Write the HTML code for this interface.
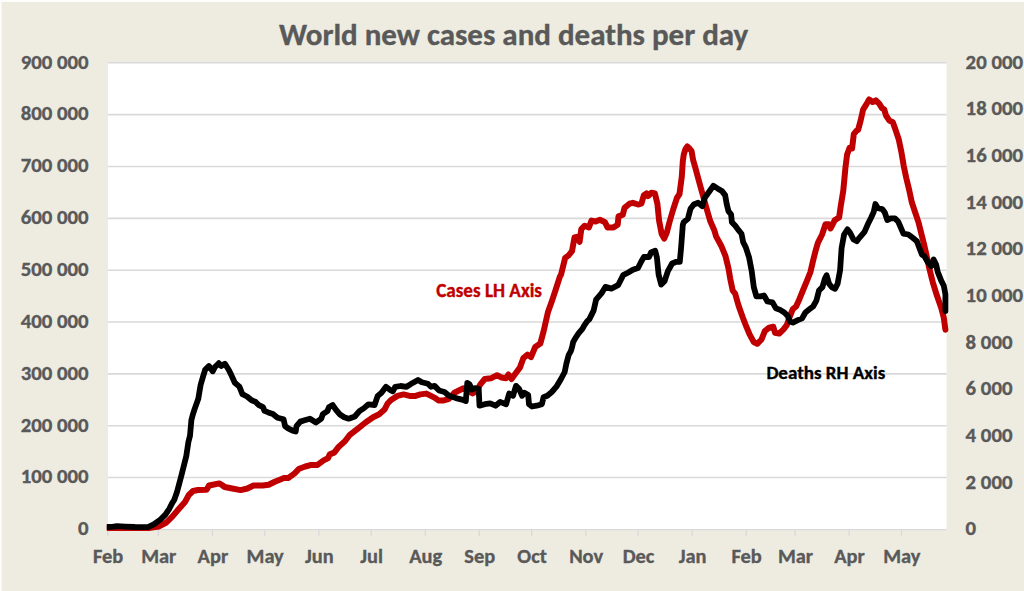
<!DOCTYPE html><html><head><meta charset="utf-8"><title>World new cases and deaths per day</title>
<style>html,body{margin:0;padding:0;background:#fff;}body{width:1024px;height:591px;overflow:hidden;}svg{display:block;font-family:Carlito,"Liberation Sans",sans-serif;font-weight:bold;}text{stroke-width:0.35px;font-size-adjust:0.485;}</style></head><body>
<svg width="1024" height="591" viewBox="0 0 1024 591">
<rect x="0" y="0" width="1024" height="591" fill="#FDFDFC"/>
<rect x="1.6" y="2" width="1024" height="591" fill="#EEECE1"/>
<rect x="108.0" y="62.0" width="838.50" height="467.40" fill="#FFFFFF"/>
<line x1="108.0" x2="946.5" y1="477.56" y2="477.56" stroke="#D9D9D9" stroke-width="1.6"/>
<line x1="108.0" x2="946.5" y1="425.71" y2="425.71" stroke="#D9D9D9" stroke-width="1.6"/>
<line x1="108.0" x2="946.5" y1="373.87" y2="373.87" stroke="#D9D9D9" stroke-width="1.6"/>
<line x1="108.0" x2="946.5" y1="322.02" y2="322.02" stroke="#D9D9D9" stroke-width="1.6"/>
<line x1="108.0" x2="946.5" y1="270.18" y2="270.18" stroke="#D9D9D9" stroke-width="1.6"/>
<line x1="108.0" x2="946.5" y1="218.33" y2="218.33" stroke="#D9D9D9" stroke-width="1.6"/>
<line x1="108.0" x2="946.5" y1="166.49" y2="166.49" stroke="#D9D9D9" stroke-width="1.6"/>
<line x1="108.0" x2="946.5" y1="114.64" y2="114.64" stroke="#D9D9D9" stroke-width="1.6"/>
<line x1="108.0" x2="946.5" y1="62.80" y2="62.80" stroke="#D9D9D9" stroke-width="1.6"/>
<line x1="108.0" x2="946.5" y1="529.70" y2="529.70" stroke="#D9D9D9" stroke-width="1.3"/>
<line x1="107.80" x2="107.80" y1="529.40" y2="535.90" stroke="#D9D9D9" stroke-width="1.3"/>
<line x1="158.38" x2="158.38" y1="529.40" y2="535.90" stroke="#D9D9D9" stroke-width="1.3"/>
<line x1="212.46" x2="212.46" y1="529.40" y2="535.90" stroke="#D9D9D9" stroke-width="1.3"/>
<line x1="264.79" x2="264.79" y1="529.40" y2="535.90" stroke="#D9D9D9" stroke-width="1.3"/>
<line x1="318.86" x2="318.86" y1="529.40" y2="535.90" stroke="#D9D9D9" stroke-width="1.3"/>
<line x1="371.19" x2="371.19" y1="529.40" y2="535.90" stroke="#D9D9D9" stroke-width="1.3"/>
<line x1="425.26" x2="425.26" y1="529.40" y2="535.90" stroke="#D9D9D9" stroke-width="1.3"/>
<line x1="479.34" x2="479.34" y1="529.40" y2="535.90" stroke="#D9D9D9" stroke-width="1.3"/>
<line x1="531.66" x2="531.66" y1="529.40" y2="535.90" stroke="#D9D9D9" stroke-width="1.3"/>
<line x1="585.74" x2="585.74" y1="529.40" y2="535.90" stroke="#D9D9D9" stroke-width="1.3"/>
<line x1="638.07" x2="638.07" y1="529.40" y2="535.90" stroke="#D9D9D9" stroke-width="1.3"/>
<line x1="692.14" x2="692.14" y1="529.40" y2="535.90" stroke="#D9D9D9" stroke-width="1.3"/>
<line x1="746.21" x2="746.21" y1="529.40" y2="535.90" stroke="#D9D9D9" stroke-width="1.3"/>
<line x1="795.05" x2="795.05" y1="529.40" y2="535.90" stroke="#D9D9D9" stroke-width="1.3"/>
<line x1="849.13" x2="849.13" y1="529.40" y2="535.90" stroke="#D9D9D9" stroke-width="1.3"/>
<line x1="901.46" x2="901.46" y1="529.40" y2="535.90" stroke="#D9D9D9" stroke-width="1.3"/>
<g fill="#595959" stroke="#595959" font-size="20.4" text-anchor="middle">
<text x="108.20" y="563.1" textLength="30.28" lengthAdjust="spacingAndGlyphs">Feb</text>
<text x="158.78" y="563.1" textLength="35.14" lengthAdjust="spacingAndGlyphs">Mar</text>
<text x="212.86" y="563.1" textLength="30.55" lengthAdjust="spacingAndGlyphs">Apr</text>
<text x="265.19" y="563.1" textLength="37.19" lengthAdjust="spacingAndGlyphs">May</text>
<text x="319.26" y="563.1" textLength="28.64" lengthAdjust="spacingAndGlyphs">Jun</text>
<text x="371.59" y="563.1" textLength="22.70" lengthAdjust="spacingAndGlyphs">Jul</text>
<text x="425.66" y="563.1" textLength="32.97" lengthAdjust="spacingAndGlyphs">Aug</text>
<text x="479.74" y="563.1" textLength="30.86" lengthAdjust="spacingAndGlyphs">Sep</text>
<text x="532.06" y="563.1" textLength="29.41" lengthAdjust="spacingAndGlyphs">Oct</text>
<text x="586.14" y="563.1" textLength="33.98" lengthAdjust="spacingAndGlyphs">Nov</text>
<text x="638.47" y="563.1" textLength="31.66" lengthAdjust="spacingAndGlyphs">Dec</text>
<text x="692.54" y="563.1" textLength="27.77" lengthAdjust="spacingAndGlyphs">Jan</text>
<text x="746.61" y="563.1" textLength="30.28" lengthAdjust="spacingAndGlyphs">Feb</text>
<text x="795.45" y="563.1" textLength="35.14" lengthAdjust="spacingAndGlyphs">Mar</text>
<text x="849.53" y="563.1" textLength="30.55" lengthAdjust="spacingAndGlyphs">Apr</text>
<text x="901.86" y="563.1" textLength="37.19" lengthAdjust="spacingAndGlyphs">May</text>
</g>
<g fill="#595959" stroke="#595959" font-size="20.8" text-anchor="end">
<text x="88.6" y="535.20" textLength="10.55" lengthAdjust="spacingAndGlyphs">0</text>
<text x="88.6" y="483.36" textLength="67.95" lengthAdjust="spacingAndGlyphs">100 000</text>
<text x="88.6" y="431.51" textLength="67.95" lengthAdjust="spacingAndGlyphs">200 000</text>
<text x="88.6" y="379.67" textLength="67.95" lengthAdjust="spacingAndGlyphs">300 000</text>
<text x="88.6" y="327.82" textLength="67.95" lengthAdjust="spacingAndGlyphs">400 000</text>
<text x="88.6" y="275.98" textLength="67.95" lengthAdjust="spacingAndGlyphs">500 000</text>
<text x="88.6" y="224.13" textLength="67.95" lengthAdjust="spacingAndGlyphs">600 000</text>
<text x="88.6" y="172.29" textLength="67.95" lengthAdjust="spacingAndGlyphs">700 000</text>
<text x="88.6" y="120.44" textLength="67.95" lengthAdjust="spacingAndGlyphs">800 000</text>
<text x="88.6" y="68.60" textLength="67.95" lengthAdjust="spacingAndGlyphs">900 000</text>
</g>
<g fill="#595959" stroke="#595959" font-size="20.8" text-anchor="start">
<text x="965.6" y="535.20" textLength="10.55" lengthAdjust="spacingAndGlyphs">0</text>
<text x="965.6" y="488.54" textLength="46.88" lengthAdjust="spacingAndGlyphs">2 000</text>
<text x="965.6" y="441.88" textLength="46.88" lengthAdjust="spacingAndGlyphs">4 000</text>
<text x="965.6" y="395.22" textLength="46.88" lengthAdjust="spacingAndGlyphs">6 000</text>
<text x="965.6" y="348.56" textLength="46.88" lengthAdjust="spacingAndGlyphs">8 000</text>
<text x="965.6" y="301.90" textLength="57.41" lengthAdjust="spacingAndGlyphs">10 000</text>
<text x="965.6" y="255.24" textLength="57.41" lengthAdjust="spacingAndGlyphs">12 000</text>
<text x="965.6" y="208.58" textLength="57.41" lengthAdjust="spacingAndGlyphs">14 000</text>
<text x="965.6" y="161.92" textLength="57.41" lengthAdjust="spacingAndGlyphs">16 000</text>
<text x="965.6" y="115.26" textLength="57.41" lengthAdjust="spacingAndGlyphs">18 000</text>
<text x="965.6" y="68.60" textLength="57.41" lengthAdjust="spacingAndGlyphs">20 000</text>
</g>
<text x="513.6" y="44.5" fill="#595959" stroke="#595959" font-size="31" text-anchor="middle" textLength="469.39" lengthAdjust="spacingAndGlyphs">World new cases and deaths per day</text>
<defs><clipPath id="pc"><rect x="106.8" y="0" width="917" height="591"/></clipPath></defs>
<g clip-path="url(#pc)">
<polyline points="105.0,528.1 148.8,528.1 158.6,526.6 166.4,522.5 172.3,516.6 178.1,509.8 185.0,502.0 188.8,495.0 193.0,491.0 198.0,490.0 206.6,489.7 209.0,485.5 214.0,484.5 219.3,483.4 222.0,485.0 224.6,487.0 232.2,488.5 240.6,490.1 247.4,488.5 253.5,485.5 262.6,485.5 268.7,484.7 274.8,481.7 284.0,477.9 288.5,477.9 294.6,473.3 299.2,468.7 305.3,466.5 311.4,464.9 317.5,464.9 323.6,460.4 328.1,458.1 329.7,454.3 334.2,452.7 338.8,446.7 344.9,441.3 349.5,435.2 357.9,428.6 365.5,422.5 373.1,417.2 379.2,414.2 384.5,409.6 387.6,403.5 391.4,399.7 397.5,395.9 403.6,394.4 409.7,395.9 415.7,395.9 420.3,394.4 426.4,393.6 431.0,395.9 435.3,398.1 438.4,400.4 443.7,400.4 449.0,398.8 454.4,392.7 458.9,390.5 463.5,388.2 468.1,391.0 472.6,393.5 476.5,391.2 480.3,384.4 484.8,379.0 490.9,378.3 497.0,375.2 501.6,377.5 506.1,378.3 508.4,374.5 511.5,379.0 515.3,373.7 519.9,367.6 523.4,358.0 527.6,354.6 531.0,357.1 535.2,347.0 540.3,343.6 543.7,330.9 547.9,312.3 552.1,300.5 555.5,290.3 559.8,276.8 561.0,274.8 565.2,257.8 568.6,255.3 572.0,251.1 574.5,237.5 577.9,236.7 579.6,241.8 581.3,229.1 584.7,225.7 588.9,227.4 591.5,220.6 595.7,221.5 599.9,219.8 605.0,222.3 607.5,227.4 613.5,227.4 617.7,224.8 618.5,216.4 622.8,214.7 624.5,207.9 629.5,203.7 632.9,202.8 638.0,204.5 641.4,203.7 643.9,195.2 646.4,193.5 648.1,196.1 651.5,192.7 654.9,193.5 657.4,203.7 659.1,220.6 661.7,234.1 664.2,238.6 666.8,232.5 669.5,222.0 673.0,210.0 676.9,198.0 679.5,194.0 681.8,176.6 682.8,161.4 683.8,154.3 685.5,149.0 687.3,146.5 689.5,148.5 691.6,151.2 693.2,160.4 695.0,166.5 697.7,176.6 700.5,186.8 702.8,195.0 707.0,210.0 710.2,221.0 714.4,230.5 716.1,236.4 721.2,245.7 725.4,255.8 728.5,268.5 730.2,278.6 732.7,290.5 735.2,293.8 738.6,305.7 742.8,317.5 745.4,324.3 749.6,334.4 753.8,342.1 757.2,343.8 761.5,339.5 764.8,331.1 769.1,327.7 773.3,326.8 775.0,332.8 779.2,333.6 783.5,329.4 786.8,325.1 789.4,317.5 792.8,309.1 796.1,306.5 799.5,298.9 802.9,290.5 807.1,280.3 810.5,271.8 813.0,261.0 815.4,251.4 817.9,242.9 822.1,234.5 825.5,224.3 828.9,224.3 830.6,228.5 834.8,220.1 839.1,217.5 840.8,205.7 843.3,190.5 845.4,168.0 847.1,154.5 849.6,147.7 852.1,148.5 853.8,134.1 856.4,130.8 858.1,129.9 860.6,120.6 863.1,109.6 865.7,105.4 869.1,99.5 872.5,102.0 875.8,100.3 879.2,103.7 881.8,107.9 884.3,109.6 886.0,115.5 889.4,120.6 892.8,122.3 895.3,129.1 898.7,139.2 901.2,151.1 903.8,166.3 906.3,178.1 909.3,190.5 911.8,202.3 915.2,212.5 918.6,222.6 921.1,232.8 923.7,242.9 926.0,253.0 929.4,268.8 932.8,282.3 937.0,295.8 941.2,307.7 943.8,317.8 945.4,329.7" fill="none" stroke="#C00000" stroke-width="6.0" stroke-linejoin="round" stroke-linecap="round"/>
<polyline points="104.0,526.8 112.0,526.8 117.0,526.2 125.0,526.6 135.0,527.0 147.9,527.1 153.7,524.4 160.5,519.5 165.4,514.6 169.3,508.8 172.3,502.9 174.2,500.0 177.0,492.0 181.2,476.3 186.3,456.0 188.4,442.0 190.0,435.7 191.4,420.0 192.6,415.4 194.5,409.4 198.3,398.7 200.6,385.0 202.8,377.4 205.1,369.8 208.9,366.0 212.7,371.3 215.0,367.0 218.8,363.2 221.1,366.0 224.9,363.7 228.7,369.8 231.0,374.4 234.8,382.7 239.4,386.6 242.4,394.2 247.0,396.5 251.6,400.3 255.4,401.8 258.4,404.8 263.0,407.1 264.5,410.9 268.3,412.4 272.9,414.0 277.5,417.8 283.6,419.3 285.1,426.1 288.1,428.4 292.7,430.7 295.7,431.5 296.5,426.1 300.3,421.6 304.6,420.3 309.9,418.7 316.0,422.5 321.3,418.7 322.8,414.2 327.4,411.1 328.9,407.3 332.7,405.0 335.8,409.6 339.6,414.2 344.2,417.2 348.7,418.7 354.8,416.5 359.4,411.1 364.0,408.1 368.5,404.3 374.6,405.0 377.7,395.9 381.5,392.8 386.0,386.8 389.9,389.8 392.9,391.3 395.2,386.8 400.5,386.0 406.6,386.8 412.7,382.9 418.0,379.9 421.8,382.2 427.9,383.7 431.0,386.8 434.6,385.9 439.1,390.5 444.5,392.0 449.0,395.8 455.9,398.1 462.0,399.6 465.8,401.1 467.3,382.8 469.6,384.4 471.9,389.7 474.9,388.2 478.7,388.9 479.5,405.7 484.8,404.2 490.2,403.4 495.5,405.7 500.1,401.9 506.1,404.2 509.2,393.5 513.0,395.8 516.0,385.9 519.1,388.9 522.1,395.8 524.4,392.7 528.2,395.0 529.0,404.2 532.0,406.5 536.6,405.7 541.9,404.2 543.5,397.3 547.3,395.8 551.8,392.0 556.4,386.7 561.0,379.0 564.7,372.0 566.3,364.0 568.6,355.2 571.0,350.8 572.2,346.4 573.2,342.0 575.7,337.6 578.7,333.2 582.4,328.8 584.3,325.3 586.7,321.8 589.4,319.1 593.6,310.6 596.1,299.6 601.2,293.7 605.4,286.9 611.4,288.6 618.1,285.2 623.2,275.1 628.3,272.5 632.9,269.7 638.0,268.0 641.4,261.2 643.9,257.0 649.0,257.0 651.0,252.5 655.2,250.8 656.9,257.5 658.6,274.5 661.2,284.6 664.5,281.2 667.9,271.1 672.1,263.5 676.4,261.8 679.8,261.8 681.1,247.7 682.8,225.0 683.7,222.2 687.9,218.8 690.5,208.7 693.8,204.5 698.1,202.8 702.3,206.1 704.8,197.7 709.1,191.8 713.3,185.8 717.5,188.4 721.8,190.9 725.1,195.1 726.8,204.5 728.5,211.2 731.1,214.6 731.9,222.2 735.3,225.8 738.1,229.6 741.5,233.8 743.2,242.3 745.8,247.4 749.1,257.5 751.7,271.1 753.8,287.1 756.4,296.4 760.6,296.4 764.0,295.5 767.4,301.5 772.5,302.3 775.8,308.2 780.1,309.9 784.3,312.5 787.7,315.8 790.2,321.8 792.8,322.6 797.8,320.1 802.1,318.4 805.4,312.5 809.7,309.1 813.1,306.5 816.4,300.6 819.0,290.5 822.4,287.1 824.9,278.6 826.6,275.2 829.1,283.7 831.7,287.1 835.1,288.8 837.6,283.7 840.1,270.2 841.6,248.0 844.1,234.5 847.5,229.4 850.1,232.8 853.5,239.5 856.8,241.2 859.4,237.8 864.5,231.9 867.8,224.3 871.2,217.5 873.8,211.6 875.4,204.0 878.0,208.2 882.2,209.1 884.8,212.5 887.3,220.1 890.7,218.4 894.9,218.4 898.3,221.8 900.8,227.7 903.4,233.6 908.4,234.5 912.7,237.8 916.9,241.2 919.4,248.0 922.0,254.8 924.3,256.1 927.7,262.0 931.1,266.2 933.6,259.5 936.1,264.5 937.8,272.1 941.2,280.6 943.8,285.7 945.4,294.2 945.4,311.1" fill="none" stroke="#000000" stroke-width="5.8" stroke-linejoin="round" stroke-linecap="round"/>
</g>
<text x="436.2" y="297" fill="#C00000" stroke="#C00000" font-size="19.1" textLength="105.78" lengthAdjust="spacingAndGlyphs">Cases LH Axis</text>
<text x="766.4" y="378.8" fill="#000000" stroke="#000000" font-size="19" textLength="118.88" lengthAdjust="spacingAndGlyphs">Deaths RH Axis</text>
</svg></body></html>
